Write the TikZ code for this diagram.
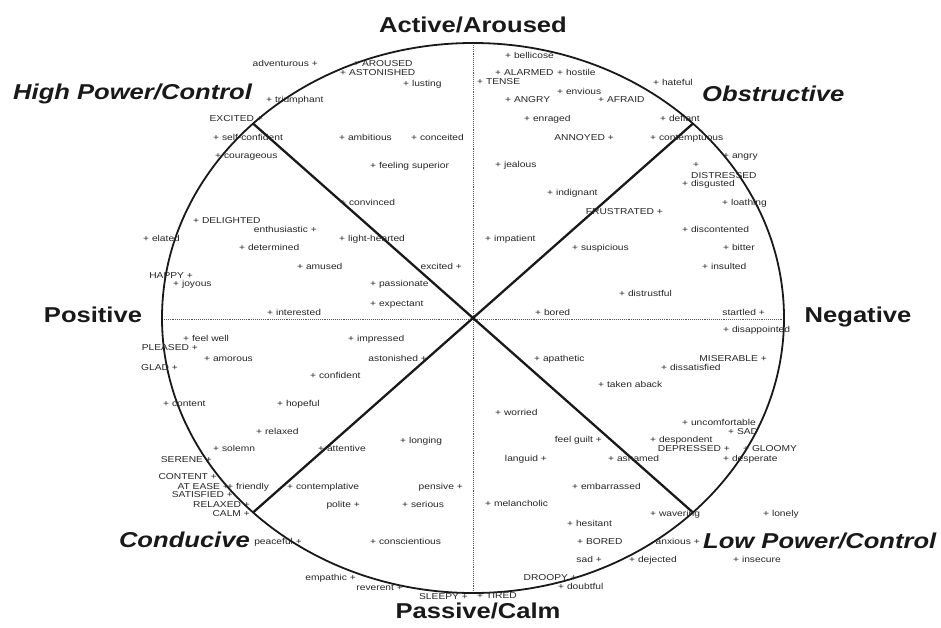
\documentclass[tikz,border=0pt]{standalone}
\usepackage{fontspec}
\setmainfont{Liberation Sans}[FakeStretch=1.19]
\begin{document}
\begin{tikzpicture}[x=1pt,y=-1pt,
  sm/.style={inner sep=0pt, text=black!85, font=\fontsize{8.6}{9}\selectfont},
  pl/.style={sm, anchor=base west},
  pr/.style={sm, anchor=base east},
  axislab/.style={inner sep=0pt, anchor=base, text=black!90, font=\fontsize{21.5}{24}\selectfont\bfseries},
  dimlab/.style={inner sep=0pt, text=black!90, font=\fontsize{21.5}{24}\selectfont\bfseries\itshape},
  rim/.style={line width=1.8pt, black!90},
  diag/.style={line width=2.3pt, black!90},
  axisline/.style={line width=0.9pt, black!65, densely dotted}]
\path[use as bounding box] (0,0) rectangle (941,627);
% geometry
\coordinate (c) at (473,318);
\coordinate (top) at (473,43);
\coordinate (bot) at (473,593);
\coordinate (lft) at (162,319);
\coordinate (rgt) at (784,319);
\coordinate (ne) at (693,123.5);
\coordinate (nw) at (253,123.5);
\coordinate (sw) at (253,512.5);
\coordinate (se) at (693,512.5);
\draw[axisline] (top) -- (bot);
\draw[axisline] (lft) -- (rgt);
\draw[rim] (c) ellipse [x radius=311, y radius=275];
\draw[diag] (c) -- (ne);
\draw[diag] (c) -- (nw);
\draw[diag] (c) -- (sw);
\draw[diag] (c) -- (se);
% big labels
\node[axislab] (act) at (473,32.5) {Active/Aroused};
\node[axislab] (pas) at (478,618.5) {Passive/Calm};
\node[axislab] (pos) at (93,322.5) {Positive};
\node[axislab] (neg) at (858,322.5) {Negative};
\node[dimlab, anchor=base west] (hpc) at (13,99.5) {High Power/Control};
\node[dimlab, anchor=base west] (obs) at (702,101.5) {Obstructive};
\node[dimlab, anchor=base east] (con) at (250,547.5) {Conducive};
\node[dimlab, anchor=base west] (lpc) at (703,548.5) {Low Power/Control};
% labels with the marker in front
\foreach \x/\y/\t [count=\i] in {
  353/63/+ AROUSED, 340/72/+ ASTONISHED, 403/83/+ lusting, 266/99/+ triumphant,
  213/137/+ self-confident, 339/137/+ ambitious, 411/137/+ conceited, 215/155/+ courageous,
  370/165/+ feeling superior, 340/202/+ convinced, 193/220/+ DELIGHTED, 143/238/+ elated,
  339/238/+ light-hearted, 239/247/+ determined, 297/266/+ amused, 173/283/+ joyous,
  370/283/+ passionate, 370/303/+ expectant, 267/312/+ interested,
  505/55/+ bellicose, 495/72/+ ALARMED, 557/72/+ hostile, 477/81/+ TENSE,
  653/82/+ hateful, 557/91/+ envious, 505/99/+ ANGRY, 598/99/+ AFRAID,
  524/118/+ enraged, 660/118/+ defiant, 650/137/+ contemptuous, 723/155/+ angry,
  495/164/+ jealous, 693/164/+, 691/175/DISTRESSED, 682/183/+ disgusted,
  547/192/+ indignant, 722/202/+ loathing, 682/229/+ discontented, 485/238/+ impatient,
  572/247/+ suspicious, 723/247/+ bitter, 702/266/+ insulted, 619/293/+ distrustful,
  535/312/+ bored,
  183/338/+ feel well, 348/338/+ impressed, 204/358/+ amorous, 310/375/+ confident,
  163/403/+ content, 277/403/+ hopeful, 256/431/+ relaxed, 400/440/+ longing,
  213/448/+ solemn, 318/448/+ attentive, 227/486/+ friendly, 287/486/+ contemplative,
  402/504/+ serious, 370/541/+ conscientious,
  723/329/+ disappointed, 534/358/+ apathetic, 661/367/+ dissatisfied, 598/384/+ taken aback,
  495/412/+ worried, 682/422/+ uncomfortable, 728/431/+ SAD, 650/439/+ despondent,
  743/448/+ GLOOMY, 608/458/+ ashamed, 723/458/+ desperate, 572/486/+ embarrassed,
  485/503/+ melancholic, 650/513/+ wavering, 763/513/+ lonely, 567/523/+ hesitant,
  577/541/+ BORED, 629/559/+ dejected, 733/559/+ insecure, 558/586/+ doubtful,
  477/595/+ TIRED}
  \node[pl] (l\i) at (\x,\y+3) {\t};
% labels with the marker behind
\foreach \x/\y/\t [count=\i] in {
  318/63/adventurous +, 263/118/EXCITED +, 317/229/enthusiastic +, 462/266/excited +,
  193/275/HAPPY +,
  614/137/ANNOYED +, 663/211/FRUSTRATED +, 765/312/startled +,
  198/347/PLEASED +, 427/358/astonished +, 178/367/GLAD +, 212/459/SERENE +,
  217/476/CONTENT +, 229/486/AT EASE +, 463/486/pensive +, 233/494/SATISFIED +,
  250/504/RELAXED +, 360/504/polite +, 250/513/CALM +, 302/541/peaceful +,
  356/577/empathic +, 403/587/reverent +, 468/596/SLEEPY +,
  767/358/MISERABLE +, 602/439/feel guilt +, 730/448/DEPRESSED +, 547/458/languid +,
  700/541/anxious +, 602/559/sad +, 577/577/DROOPY +}
  \node[pr] (r\i) at (\x,\y+3) {\t};
\end{tikzpicture}
\end{document}
